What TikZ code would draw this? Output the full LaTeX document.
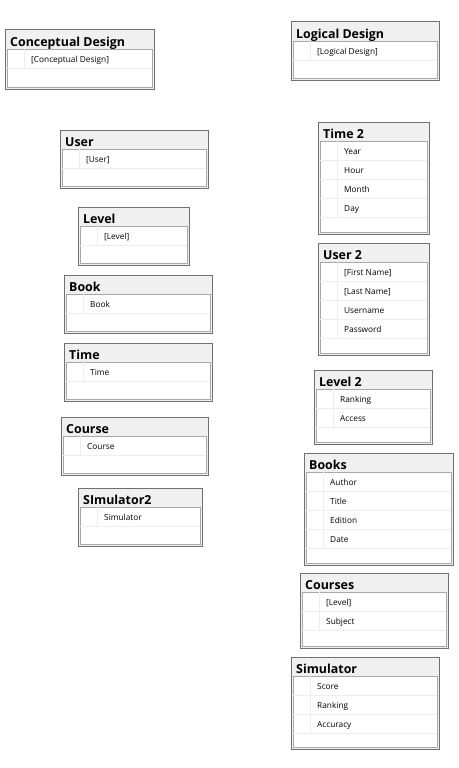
\documentclass[tikz,border=0pt]{standalone}
\usepackage{fontspec}
\setmainfont{Open Sans}
\definecolor{boxgray}{HTML}{707070}
\definecolor{headgray}{HTML}{F0F0F0}
\definecolor{innergray}{HTML}{A8A8A8}
\definecolor{linegray}{HTML}{EDEDED}

% #1 name, #2 x, #3 y, #4 width, #5 height, #6 title, #7 rows
\newcommand{\dbtable}[7]{%
  \node[tablebox, minimum width=#4pt, minimum height=#5pt, anchor=north west] (#1) at (#2,#3) {};
  \node[titletext] (#1-title) at ([shift={(5,16.5)}]#1.north west) {#6};
  \draw[innerbox] ([shift={(2,19)}]#1.north west) rectangle ([shift={(-2,-2)}]#1.south east);
  \foreach \r [count=\i] in {#7} {
    \draw[rowline] ([shift={(2,19+19*\i)}]#1.north west) -- ([shift={(-2,19+19*\i)}]#1.north east);
    \draw[colline] ([shift={(19,19*\i)}]#1.north west) -- ([shift={(19,19+19*\i)}]#1.north west);
    \node[rowtext] (#1-\i) at ([shift={(26,13.5+19*\i)}]#1.north west) {\r};
  }
}

\begin{document}
\begin{tikzpicture}[x=1pt, y=-1pt,
    tablebox/.style={draw=boxgray, fill=headgray, line width=1pt, inner sep=0, outer sep=0},
    innerbox/.style={draw=innergray, fill=white, line width=0.9pt},
    rowline/.style={linegray, line width=0.8pt},
    colline/.style={linegray, line width=0.8pt},
    titletext/.style={anchor=base west, inner sep=0, font=\fontsize{12.4}{14}\selectfont\bfseries},
    rowtext/.style={anchor=base west, inner sep=0, font=\fontsize{8.3}{10}\selectfont}]
  \useasboundingbox (0,0) rectangle (458,768);

  %conceptual side
  \dbtable{concept}{5}{30}{149}{59}{Conceptual Design}{{[Conceptual Design]}}
  \dbtable{user}{60}{130}{148}{58}{User}{{[User]}}
  \dbtable{level}{78}{207}{111}{58}{Level}{{[Level]}}
  \dbtable{book}{64}{275}{148}{58}{Book}{Book}
  \dbtable{time}{64}{343}{148}{58}{Time}{Time}
  \dbtable{course}{61}{417}{147}{58}{Course}{Course}
  \dbtable{sim2}{78}{488}{124}{58}{SImulator2}{Simulator}

  %logical side
  \dbtable{logical}{291}{22}{148}{58}{Logical Design}{{[Logical Design]}}
  \dbtable{time2}{318}{122}{111}{112}{Time 2}{Year, Hour, Month, Day}
  \dbtable{user2}{318}{243}{111}{112}{User 2}{{[First Name]}, {[Last Name]}, Username, Password}
  \dbtable{level2}{314}{370}{118}{74}{Level 2}{Ranking, Access}
  \dbtable{books}{304}{453}{149}{112}{Books}{Author, Title, Edition, Date}
  \dbtable{courses}{300}{573}{148}{75}{Courses}{{[Level]}, Subject}
  \dbtable{simulator}{291}{657}{148}{92}{Simulator}{Score, Ranking, Accuracy}
\end{tikzpicture}
\end{document}
